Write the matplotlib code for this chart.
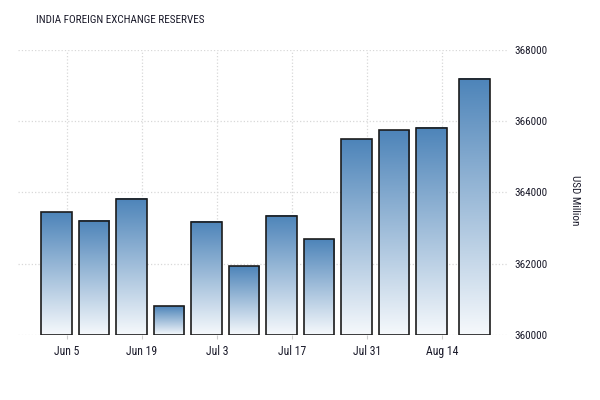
import numpy as np
import matplotlib
matplotlib.use("Agg")
import matplotlib.pyplot as plt
import matplotlib.dates as mdates
from matplotlib.colors import LinearSegmentedColormap
from matplotlib.patches import Rectangle

# weekly reserves, USD million
dates = ["2015-06-03", "2015-06-10", "2015-06-17", "2015-06-24", "2015-07-01",
         "2015-07-08", "2015-07-15", "2015-07-22", "2015-07-29", "2015-08-05",
         "2015-08-12", "2015-08-20"]
values = [363450, 363210, 363820, 360800, 363180, 361930,
          363350, 362690, 365500, 365750, 365820, 367190]
tick_dates = ["2015-06-05", "2015-06-19", "2015-07-03", "2015-07-17",
              "2015-07-31", "2015-08-14"]
tick_labels = ["Jun 5", "Jun 19", "Jul 3", "Jul 17", "Jul 31", "Aug 14"]
yticks = [360000, 362000, 364000, 366000, 368000]

TOP, BOTTOM = "#4d84b9", "#f6f9fc"
TXT = "#1a1a2a"
cmap = LinearSegmentedColormap.from_list("bar", [BOTTOM, TOP])
plt.rcParams["font.family"] = ["Roboto Condensed", "DejaVu Sans"]

fig = plt.figure(figsize=(6, 4), dpi=100)
ax = fig.add_axes([0.03, 0.1625, 0.815, 0.7125])

x = mdates.date2num(np.array(dates, dtype="datetime64[D]"))
base = yticks[0]
w = 5.7
grad = np.linspace(0, 1, 256).reshape(-1, 1)
for xi, v in zip(x, values):
    ax.imshow(grad, cmap=cmap, origin="lower", aspect="auto",
              extent=[xi - w / 2, xi + w / 2, base, v], zorder=2)
    ax.add_patch(Rectangle((xi - w / 2, base), w, v - base, fill=False,
                           ec="#1c1c1c", lw=1.2, zorder=3))

xt = mdates.date2num(np.array(tick_dates, dtype="datetime64[D]"))
ax.set_xticks(xt)
ax.set_xticklabels(tick_labels, fontsize=8.5, color=TXT)
ax.set_xlim(xt[0] - 9.15, xt[0] + 82.1)
ax.set_ylim(yticks[0], yticks[-1])
ax.set_yticks(yticks)
ax.set_yticklabels([str(t) for t in yticks], fontsize=8, color=TXT)
ax.yaxis.tick_right()
ax.tick_params(axis="y", length=0, pad=5)
ax.tick_params(axis="x", length=3, color="#cccccc", pad=4)
ax.grid(True, color="#d8d8d8", ls=":", lw=0.9, zorder=0)
ax.set_axisbelow(True)
for s in ax.spines.values():
    s.set_visible(False)

fig.text(0.06, 0.95, "INDIA FOREIGN EXCHANGE RESERVES", fontsize=8,
         color=TXT, va="center")
fig.text(0.958, 0.5, "USD Million", rotation=270, fontsize=8,
         color=TXT, ha="center", va="center")

fig.savefig("out.png", dpi=100)
